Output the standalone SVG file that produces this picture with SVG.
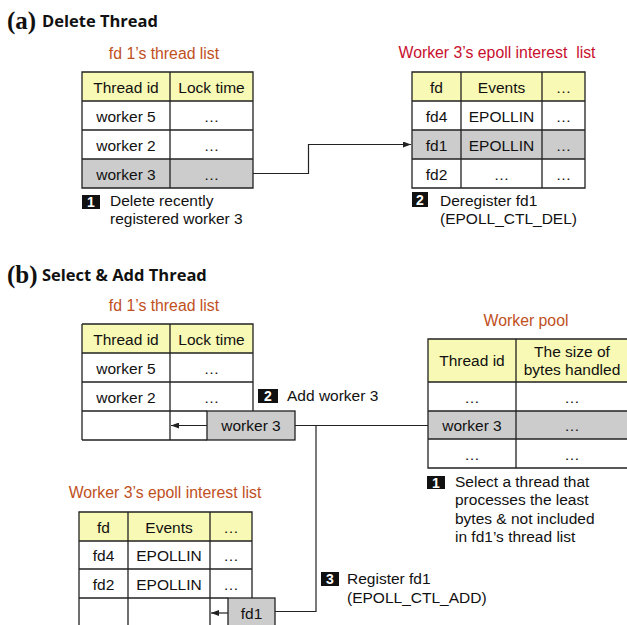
<svg xmlns="http://www.w3.org/2000/svg" width="627" height="625" viewBox="0 0 627 625">
  <style>
    .sec { font-family: "Liberation Serif", serif; font-weight: bold; font-size: 25px; fill: #111; }
    .head { font-family: "Open Sans", "Liberation Sans", sans-serif; font-weight: bold; font-size: 16.5px; fill: #111; }
    .cap { font-family: "Liberation Sans", Arial, sans-serif; font-size: 15.8px; text-anchor: middle; white-space: pre; }
    .orange { fill: #C0501E; }
    .red { fill: #C8102E; }
    .t { font-family: "Liberation Sans", Arial, sans-serif; font-size: 15.5px; fill: #111; text-anchor: middle; }
    .note { font-family: "Liberation Sans", Arial, sans-serif; font-size: 15.5px; fill: #111; }
    .num { font-family: "Liberation Sans", Arial, sans-serif; font-size: 14px; font-weight: bold; fill: #fff; text-anchor: middle; }
    .hdr { fill: #F8F9B4; }
    .wht { fill: #fff; }
    .gry { fill: #CCCCCC; }
    .grid { fill: none; stroke: #222; stroke-width: 1.3; }
    .conn { fill: none; stroke: #222; stroke-width: 1.2; }
  </style>
  <defs>
    <marker id="arr" viewBox="0 0 8 6" refX="8" refY="3" markerWidth="8" markerHeight="6" markerUnits="userSpaceOnUse" orient="auto">
      <path d="M0,0 L8,3 L0,6 Z" fill="#222"/>
    </marker>
  </defs>

  <!-- (a) Delete Thread -->
  <g id="title-a">
    <text class="sec" x="7" y="29">(a)</text>
    <text class="head" x="42" y="27">Delete Thread</text>
  </g>

  <g id="a-thread-list">
    <text class="cap orange" x="164" y="59">fd 1’s thread list</text>
    <rect class="hdr" x="82" y="72" width="171" height="29"/>
    <rect class="wht" x="82" y="101" width="171" height="58"/>
    <rect class="gry" x="82" y="159" width="171" height="29"/>
    <path class="grid" d="M82,72 H253 V188 H82 Z M82,101 H253 M82,130 H253 M82,159 H253 M170,72 V188"/>
    <text class="t" x="126" y="93">Thread id</text>
    <text class="t" x="211.5" y="93">Lock time</text>
    <text class="t" x="126" y="122">worker 5</text>
    <text class="t" x="211.5" y="122">…</text>
    <text class="t" x="126" y="151">worker 2</text>
    <text class="t" x="211.5" y="151">…</text>
    <text class="t" x="126" y="180">worker 3</text>
    <text class="t" x="211.5" y="180">…</text>
  </g>

  <g id="a-step1">
    <rect x="82" y="195" width="18" height="14" fill="#111"/>
    <text class="num" x="91" y="207">1</text>
    <text class="note" x="110" y="206">Delete recently</text>
    <text class="note" x="110" y="224">registered worker 3</text>
  </g>

  <g id="a-epoll-list">
    <text class="cap red" x="497" y="58" xml:space="preserve">Worker 3’s epoll interest  list</text>
    <rect class="hdr" x="412" y="72" width="173" height="29"/>
    <rect class="wht" x="412" y="101" width="173" height="87"/>
    <rect class="gry" x="412" y="130" width="173" height="29"/>
    <path class="grid" d="M412,72 H585 V188 H412 Z M412,101 H585 M412,130 H585 M412,159 H585 M461,72 V188 M542,72 V188"/>
    <text class="t" x="436.5" y="93">fd</text>
    <text class="t" x="501.5" y="93">Events</text>
    <text class="t" x="563.5" y="93">…</text>
    <text class="t" x="436.5" y="122">fd4</text>
    <text class="t" x="501.5" y="122">EPOLLIN</text>
    <text class="t" x="563.5" y="122">…</text>
    <text class="t" x="436.5" y="151">fd1</text>
    <text class="t" x="501.5" y="151">EPOLLIN</text>
    <text class="t" x="563.5" y="151">…</text>
    <text class="t" x="436.5" y="180">fd2</text>
    <text class="t" x="501.5" y="180">…</text>
    <text class="t" x="563.5" y="180">…</text>
  </g>

  <g id="a-step2">
    <rect x="412" y="192" width="16" height="15" fill="#111"/>
    <text class="num" x="420" y="205">2</text>
    <text class="note" x="440" y="206">Deregister fd1</text>
    <text class="note" x="440" y="224">(EPOLL_CTL_DEL)</text>
  </g>

  <!-- (b) Select & Add Thread -->
  <g id="title-b">
    <text class="sec" x="7" y="283">(b)</text>
    <text class="head" x="42" y="281">Select &amp; Add Thread</text>
  </g>

  <g id="b-thread-list">
    <text class="cap orange" x="164" y="311">fd 1’s thread list</text>
    <rect class="hdr" x="82" y="324" width="171" height="29"/>
    <rect class="wht" x="82" y="353" width="171" height="87"/>
    <path class="grid" d="M82,324 H253 V411 M82,440 V324 M82,353 H253 M82,382 H253 M82,411 H207 M82,440 H207 M170,324 V440"/>
    <text class="t" x="126" y="345">Thread id</text>
    <text class="t" x="211.5" y="345">Lock time</text>
    <text class="t" x="126" y="374">worker 5</text>
    <text class="t" x="211.5" y="374">…</text>
    <text class="t" x="126" y="403">worker 2</text>
    <text class="t" x="211.5" y="403">…</text>
  </g>

  <g id="b-worker3-box">
    <rect x="207" y="411" width="88" height="29" fill="#CCCCCC" stroke="#222" stroke-width="1.3"/>
    <text class="t" x="251" y="431">worker 3</text>
  </g>

  <g id="b-step2">
    <rect x="258" y="389" width="20" height="14" fill="#111"/>
    <text class="num" x="268" y="401">2</text>
    <text class="note" x="287" y="401">Add worker 3</text>
  </g>

  <g id="b-worker-pool">
    <text class="cap orange" x="526" y="326">Worker pool</text>
    <rect class="hdr" x="428" y="339" width="201" height="43"/>
    <rect class="wht" x="428" y="382" width="201" height="86"/>
    <rect class="gry" x="428" y="411" width="201" height="28"/>
    <path class="grid" d="M629,339 H428 V468 H629 M428,382 H629 M428,411 H629 M428,439 H629 M516,339 V468"/>
    <text class="t" x="472" y="366">Thread id</text>
    <text class="t" x="572" y="357">The size of</text>
    <text class="t" x="572" y="375">bytes handled</text>
    <text class="t" x="472" y="403">…</text>
    <text class="t" x="572" y="403">…</text>
    <text class="t" x="472" y="431">worker 3</text>
    <text class="t" x="572" y="431">…</text>
    <text class="t" x="472" y="460">…</text>
    <text class="t" x="572" y="460">…</text>
  </g>

  <g id="b-step1">
    <rect x="427" y="476" width="18" height="13" fill="#111"/>
    <text class="num" x="436" y="488">1</text>
    <text class="note" x="455" y="487">Select a thread that</text>
    <text class="note" x="455" y="505">processes the least</text>
    <text class="note" x="455" y="524">bytes &amp; not included</text>
    <text class="note" x="455" y="542">in fd1’s thread list</text>
  </g>

  <g id="b-epoll-list">
    <text class="cap orange" x="165" y="498">Worker 3’s epoll interest list</text>
    <rect class="hdr" x="79" y="512" width="173" height="29"/>
    <rect class="wht" x="79" y="541" width="173" height="90"/>
    <path class="grid" d="M79,630 V512 H252 V598 M79,541 H252 M79,569 H252 M79,598 H228 M128,512 V630 M210,512 V630"/>
    <text class="t" x="103.5" y="533">fd</text>
    <text class="t" x="169" y="533">Events</text>
    <text class="t" x="231" y="533">…</text>
    <text class="t" x="103.5" y="561">fd4</text>
    <text class="t" x="169" y="561">EPOLLIN</text>
    <text class="t" x="231" y="561">…</text>
    <text class="t" x="103.5" y="590">fd2</text>
    <text class="t" x="169" y="590">EPOLLIN</text>
    <text class="t" x="231" y="590">…</text>
  </g>

  <g id="b-fd1-box">
    <rect x="228" y="598" width="47" height="32" fill="#CCCCCC" stroke="#222" stroke-width="1.3"/>
    <text class="t" x="251.5" y="619">fd1</text>
  </g>

  <g id="b-step3">
    <rect x="321" y="572" width="18" height="14" fill="#111"/>
    <text class="num" x="330" y="584">3</text>
    <text class="note" x="347" y="584">Register fd1</text>
    <text class="note" x="347" y="603">(EPOLL_CTL_ADD)</text>
  </g>

  <g id="connectors">
    <path class="conn" d="M253,173.5 H308.5 V144.5 H411" marker-end="url(#arr)"/>
    <path class="conn" d="M207,425.5 H171" marker-end="url(#arr)"/>
    <path class="conn" d="M295,425.5 H428"/>
    <path class="conn" d="M316,425.5 V611.5 H275"/>
    <path class="conn" d="M228,613 H211" marker-end="url(#arr)"/>
  </g>
</svg>
